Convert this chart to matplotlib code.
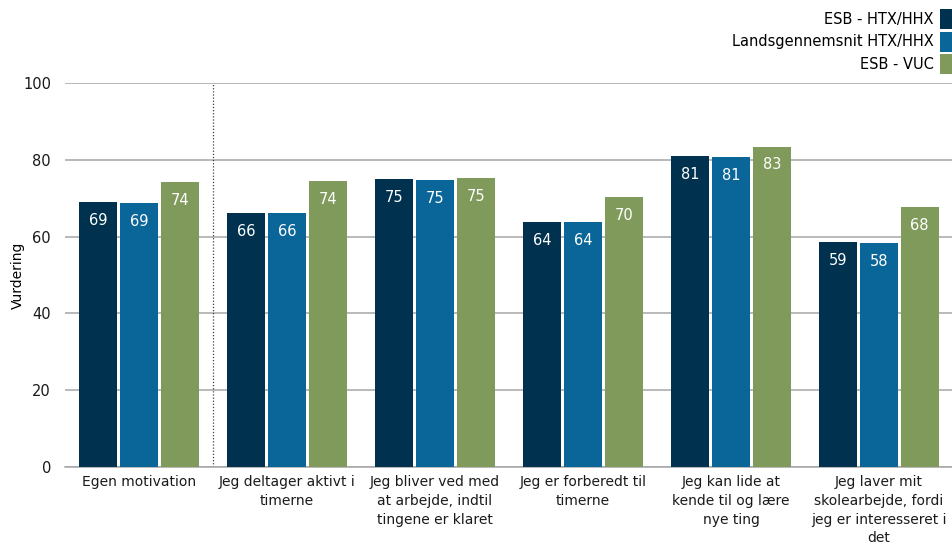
import matplotlib
matplotlib.use("Agg")
import matplotlib.pyplot as plt
import numpy as np

categories = [
    "Egen motivation",
    "Jeg deltager aktivt i\ntimerne",
    "Jeg bliver ved med\nat arbejde, indtil\ntingene er klaret",
    "Jeg er forberedt til\ntimerne",
    "Jeg kan lide at\nkende til og lære\nnye ting",
    "Jeg laver mit\nskolearbejde, fordi\njeg er interesseret i\ndet",
]
series_names = ["ESB - HTX/HHX", "Landsgennemsnit HTX/HHX", "ESB - VUC"]
esb_htx = [69.0, 66.2, 75.0, 63.8, 81.0, 58.6]
lands_htx = [68.7, 66.2, 74.7, 63.8, 80.7, 58.3]
esb_vuc = [74.2, 74.5, 75.3, 70.3, 83.4, 67.7]
yticks = [0, 20, 40, 60, 80, 100]

colors = ["#00324f", "#0a6598", "#7f9a5a"]

plt.rcParams["font.family"] = ["DejaVu Sans"]

fig = plt.figure(figsize=(9.52, 5.47), dpi=100)
ax = fig.add_axes([65 / 952, 1 - 467 / 547, 888 / 952, 384 / 547])

x = np.arange(len(categories))
width = 0.258
offsets = [-0.275, 0, 0.275]
for vals, off, col, name in zip([esb_htx, lands_htx, esb_vuc], offsets, colors, series_names):
    bars = ax.bar(x + off, vals, width, color=col, label=name, zorder=3)
    for b, v in zip(bars, vals):
        ax.text(b.get_x() + b.get_width() / 2, v - 2.8, f"{round(v):d}",
                ha="center", va="top", color="white", fontsize=10.5, zorder=4)

ax.set_xlim(-0.5, len(categories) - 0.5)
ax.set_ylim(0, 100)
ax.set_yticks(yticks)
ax.grid(axis="y", color="#a6a6a6", linewidth=1.1, zorder=0)
ax.axvline(0.5, color="#404040", linestyle=(0, (1, 1.5)), linewidth=0.9, zorder=2)
for s in ["left", "right", "top"]:
    ax.spines[s].set_visible(False)
ax.spines["bottom"].set_color("#a6a6a6")
ax.spines["bottom"].set_linewidth(1.1)
ax.tick_params(axis="y", length=0, labelsize=10.5, colors="#1a1a1a", pad=10)
ax.tick_params(axis="x", length=0, labelsize=10, colors="#1a1a1a", pad=6)
ax.set_xticks(x)
ax.set_xticklabels(categories, linespacing=1.42)
ax.set_ylabel("Vurdering", fontsize=10, labelpad=-1)

leg = fig.legend(loc="upper right", bbox_to_anchor=(1.012, 1.0), markerfirst=False,
                 frameon=False, fontsize=10.5, handlelength=1.0, handleheight=1.75,
                 handletextpad=0.45, labelspacing=0.18, borderaxespad=0.2)

fig.savefig("out.png", dpi=100)
